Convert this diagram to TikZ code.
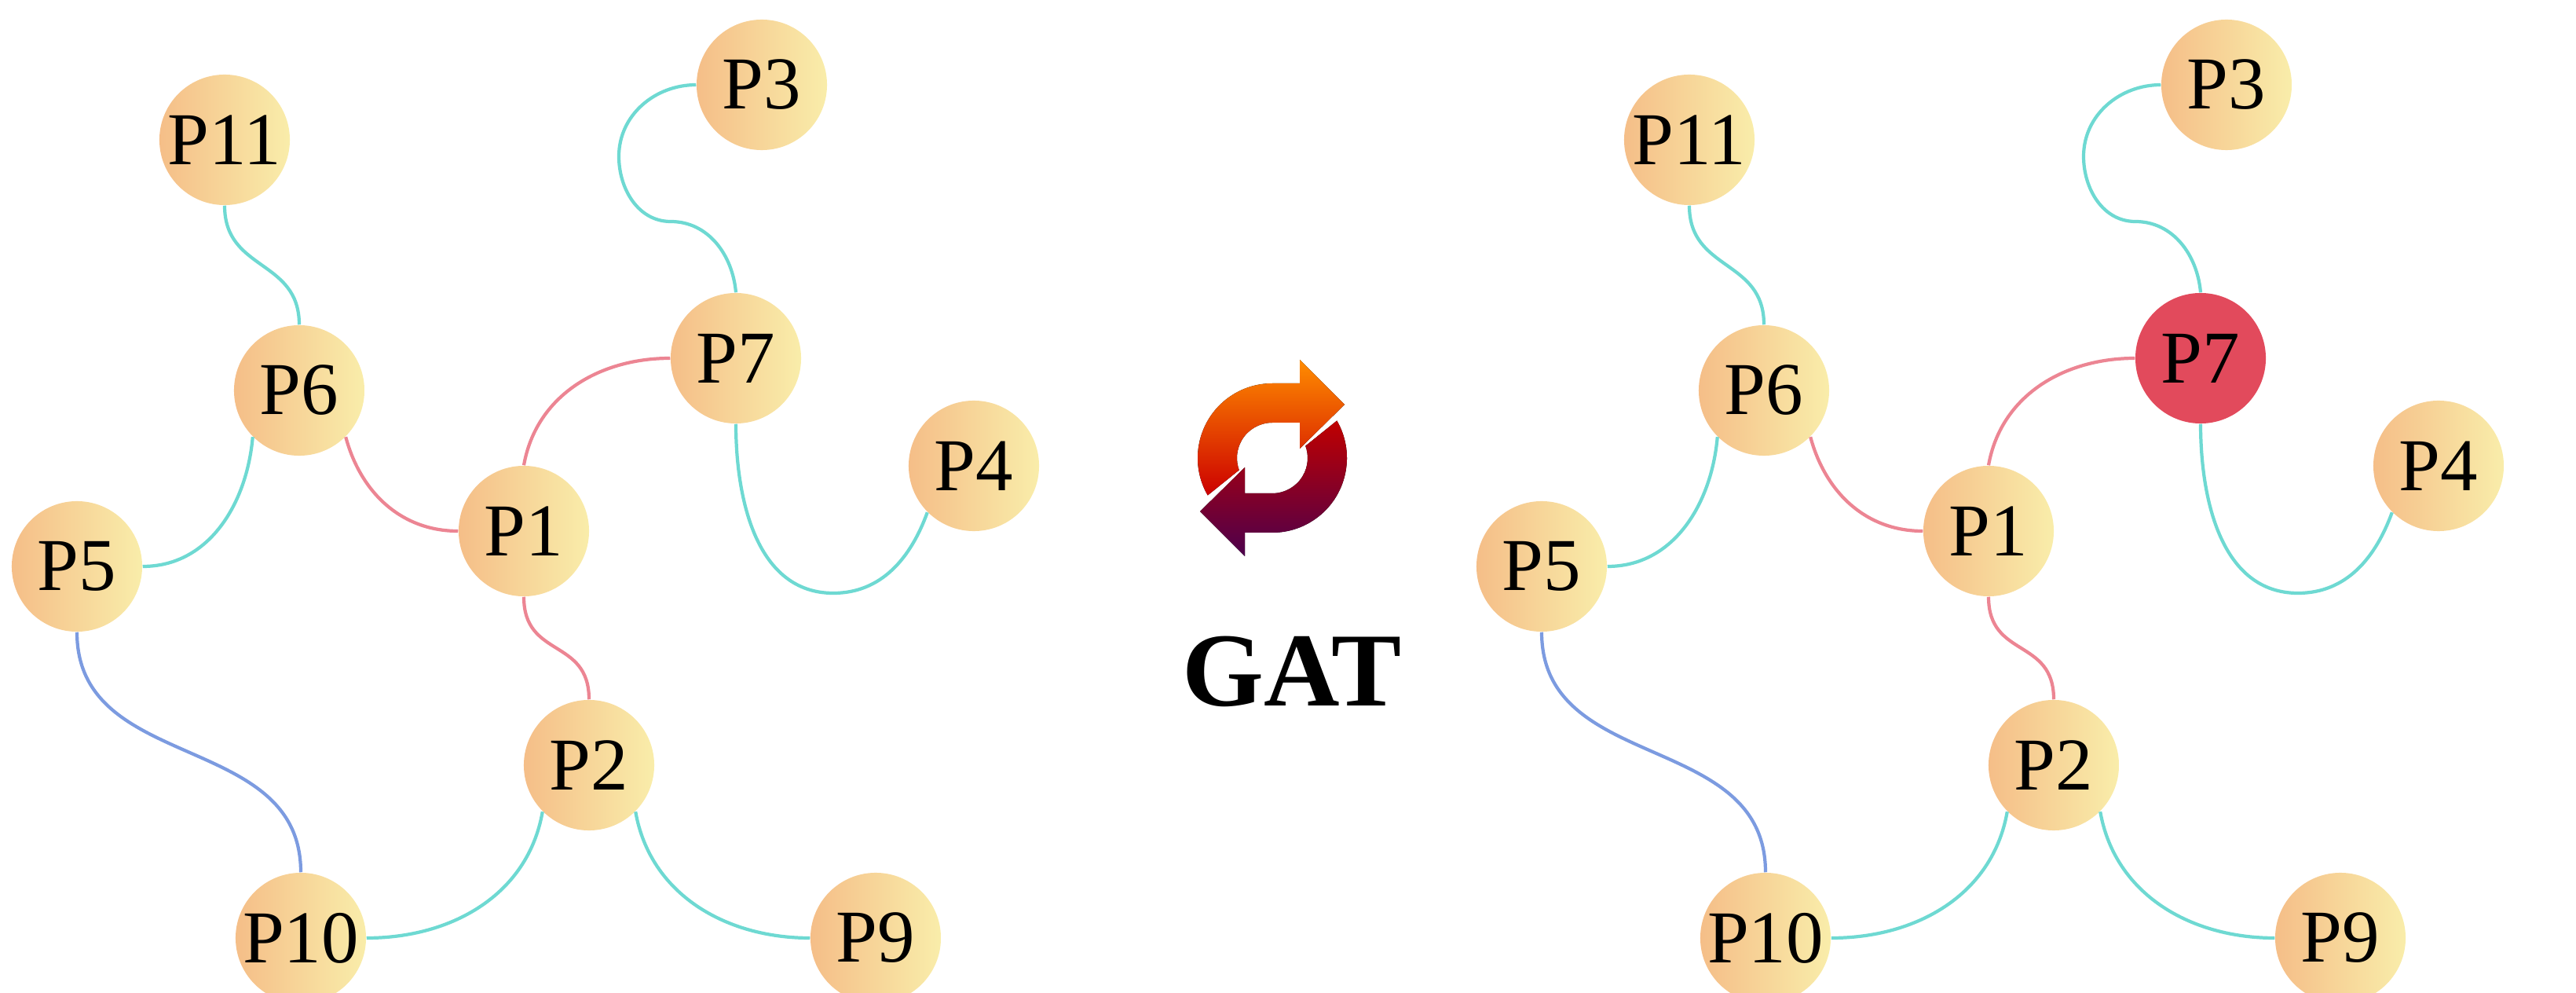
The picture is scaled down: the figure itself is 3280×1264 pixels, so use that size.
\documentclass[tikz,border=0pt]{standalone}
\usepackage{fontspec}
\setmainfont{Liberation Serif}
\begin{document}
\begin{tikzpicture}[x=0.01cm,y=-0.01cm,
  pnode/.style={circle,minimum size=1.66cm,inner sep=0pt,left color=NodeL,right color=NodeR,font=\fontsize{27}{27}\selectfont},
  rnode/.style={circle,minimum size=1.66cm,inner sep=0pt,fill=NodeRed,font=\fontsize{27}{27}\selectfont},
  ce/.style={draw=EdgeC,line width=1.2pt},
  pe/.style={draw=EdgeP,line width=1.2pt},
  be/.style={draw=EdgeB,line width=1.2pt}]
\definecolor{NodeL}{HTML}{F5BE88}
\definecolor{NodeR}{HTML}{F9EDAA}
\definecolor{NodeRed}{HTML}{E24A5C}
\definecolor{EdgeC}{HTML}{6ED9D2}
\definecolor{EdgeP}{HTML}{EC8593}
\definecolor{EdgeB}{HTML}{7C9BE0}
\useasboundingbox (0,0) rectangle (3280,1264);
\foreach \s/\dx in {L/0,R/1865}{
 \begin{scope}[xshift=\dx*0.01cm]
  \node[pnode] (\s11) at (286,178) {P11};
  \node[pnode] (\s3) at (970,108) {P3};
  \node[pnode] (\s6) at (381,497) {P6};
  \node[pnode] (\s4) at (1240,593) {P4};
  \node[pnode] (\s1) at (667,676) {P1};
  \node[pnode] (\s5) at (98,721) {P5};
  \node[pnode] (\s2) at (750,974) {P2};
  \node[pnode] (\s10) at (383,1194) {P10};
  \node[pnode] (\s9) at (1115,1194) {P9};
 \end{scope}}
\node[pnode] (L7) at (937,456) {P7};
\node[rnode] (R7) at (2802,456) {P7};
\foreach \s in {L,R}{
  \draw[ce] (\s11.south) to[out=-90,in=90,looseness=1.2] (\s6.north);
  \draw[ce] (\s7.north) to[out=95,in=0] ([shift={(-83,-174)}]\s7.center) to[out=180,in=-90] ([shift={(-149,-257)}]\s7.center) to[out=90,in=180] (\s3.west);
  \draw[pe] (\s7.west) to[out=180,in=80] (\s1.north);
  \draw[pe] (\s6.south east) to[out=-75,in=180] (\s1.west);
  \draw[ce] (\s6.south west) to[out=-95,in=0] (\s5.east);
  \draw[ce] (\s7.south) to[out=-90,in=180] ([shift={(124,299)}]\s7.center) to[out=0,in=-110] (\s4.south west);
  \draw[pe] (\s1.south) to[out=-90,in=90,looseness=1.3] (\s2.north);
  \draw[be] (\s5.south) to[out=-90,in=90,looseness=1.1] (\s10.north);
  \draw[ce] (\s2.south west) to[out=-100,in=0] (\s10.east);
  \draw[ce] (\s2.south east) to[out=-80,in=180] (\s9.west);
}
\begin{scope}[shift={(1620,583)},yscale=-1]
  \fill[top color=orange!90!yellow,bottom color=red!80!black]
    (210:95) arc[start angle=210,end angle=90,radius=95] -- (35,95) -- (35,125) -- (92,68) -- (35,12) -- (35,45) -- (0,45)
    arc[start angle=90,end angle=200,radius=45] -- cycle;
  \begin{scope}[rotate=180]
  \fill[top color=red!75!black,bottom color=violet!60!black]
    (210:95) arc[start angle=210,end angle=90,radius=95] -- (35,95) -- (35,125) -- (92,68) -- (35,12) -- (35,45) -- (0,45)
    arc[start angle=90,end angle=200,radius=45] -- cycle;
  \end{scope}
\end{scope}
\node[font=\fontsize{38}{38}\selectfont\bfseries] (gat) at (1645,855) {GAT};
\end{tikzpicture}
\end{document}
